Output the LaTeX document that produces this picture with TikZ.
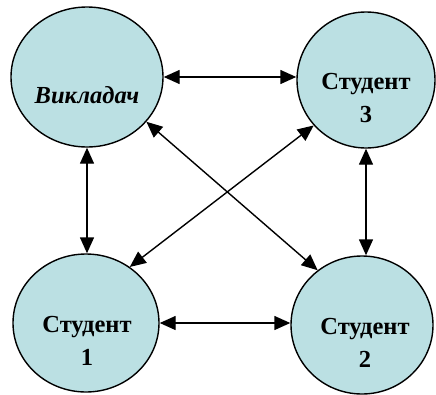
\documentclass[tikz,border=0pt]{standalone}
\usepackage{fontspec}
\setmainfont{Liberation Serif}
\usetikzlibrary{shapes.geometric,arrows.meta}
\definecolor{bubble}{RGB}{187,224,227}
\tikzset{
  person/.style={ellipse, draw=black, line width=1.4pt, fill=bubble, inner sep=0pt},
  caption/.style={align=center, font=\fontsize{24.5}{33}\selectfont\bfseries},
  link/.style={line width=1.4pt, {Triangle[length=16pt,width=14pt]}-{Triangle[length=16pt,width=14pt]}}
}
\begin{document}
\begin{tikzpicture}[x=1pt, y=-1pt]
  \useasboundingbox (0,0) rectangle (436,394);
  % the four participants
  \node[person, minimum width=152pt, minimum height=140pt] (teacher) at (87,77) {};
  \node[person, minimum width=138pt, minimum height=136pt] (s3) at (366,80) {};
  \node[person, minimum width=146pt, minimum height=138pt] (s1) at (86,323) {};
  \node[person, minimum width=142pt, minimum height=138pt] (s2) at (362,325) {};
  % their names, set a little below each centre
  \node[caption, font=\fontsize{24.5}{33}\selectfont\bfseries\itshape] (tlabel) at (87,95) {Викладач};
  \node[caption] (s3label) at (366,98) {Студент\\3};
  \node[caption] (s1label) at (87,341) {Студент\\1};
  \node[caption] (s2label) at (365,343) {Студент\\2};
  % two-way links
  \draw[link] (teacher.east) -- (teacher.east -| s3.west);
  \draw[link] (s1.east) -- (s1.east -| s2.west);
  \draw[link] (teacher.south) -- (teacher.south |- s1.north);
  \draw[link] (s3.south) -- (s3.south |- s2.north);
  \draw[link] (teacher.-37) -- (s2.129);
  \draw[link] (s3.221) -- (s1.52);
\end{tikzpicture}
\end{document}
